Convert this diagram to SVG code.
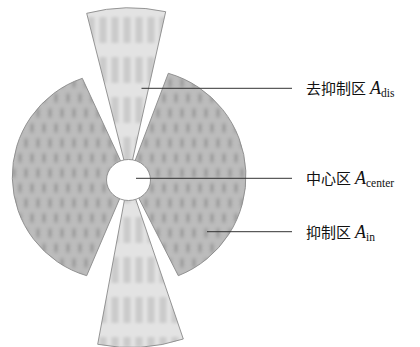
<svg xmlns="http://www.w3.org/2000/svg" width="420" height="347" viewBox="0 0 420 347">
<style>
.outline{fill:none;stroke:#8a8a8a;stroke-width:0.9}
.light{fill:#e3e3e3}
.dark{fill:#bcbcbc}
.leader{stroke:#333;stroke-width:1;fill:none}
.cjk{font-family:"Noto Sans CJK SC","Noto Sans CJK JP",sans-serif;font-size:15px;fill:#111}
.math{font-family:"Liberation Serif",serif;font-style:italic;font-size:18px;fill:#111}
.sub{font-family:"Liberation Serif",serif;font-style:normal;font-size:11.5px}
</style>
<defs>
<filter id="blur" x="-5%" y="-5%" width="110%" height="110%"><feGaussianBlur stdDeviation="1.8"/></filter>
<pattern id="stripes" patternUnits="userSpaceOnUse" x="1" y="12" width="12" height="40">
<rect x="2.5" y="5" width="7" height="26" fill="#cbcbcb"/>
</pattern>
<pattern id="spots" patternUnits="userSpaceOnUse" x="2" y="0" width="12" height="30">
<ellipse cx="6" cy="8" rx="1.8" ry="5" fill="#8c8c8c"/>
<ellipse cx="0" cy="23" rx="1.8" ry="5" fill="#8c8c8c"/>
<ellipse cx="12" cy="23" rx="1.8" ry="5" fill="#8c8c8c"/>
</pattern>
<clipPath id="cTop"><path d="M128.5,178 L86.7,13.3 A170,170 0 0 1 165.7,11.7 Z"/></clipPath>
<clipPath id="cBot"><path d="M128.5,178 L183.3,339 A170,170 0 0 1 97.7,344.3 Z"/></clipPath>
<clipPath id="cLeft"><path d="M128.5,178 L86.7,275.7 A103.6,103.6 0 0 1 82.3,78.3 Z"/></clipPath>
<clipPath id="cRight"><path d="M128.5,178 L168.3,73.3 A107,107 0 0 1 178.3,275.7 Z"/></clipPath>
</defs>
<rect width="420" height="347" fill="#ffffff"/>
<g id="wedge-top">
<path class="light" d="M128.5,178 L86.7,13.3 A170,170 0 0 1 165.7,11.7 Z"/>
<rect x="80" y="0" width="95" height="185" fill="url(#stripes)" filter="url(#blur)" clip-path="url(#cTop)"/>
<path class="outline" d="M128.5,178 L86.7,13.3 A170,170 0 0 1 165.7,11.7 Z"/>
</g>
<g id="wedge-bottom">
<path class="light" d="M128.5,178 L183.3,339 A170,170 0 0 1 97.7,344.3 Z"/>
<rect x="90" y="175" width="100" height="172" fill="url(#stripes)" filter="url(#blur)" clip-path="url(#cBot)"/>
<path class="outline" d="M128.5,178 L183.3,339 A170,170 0 0 1 97.7,344.3 Z"/>
</g>
<g id="sector-left">
<path class="dark" d="M128.5,178 L86.7,275.7 A103.6,103.6 0 0 1 82.3,78.3 Z"/>
<rect x="8" y="70" width="125" height="215" fill="url(#spots)" filter="url(#blur)" clip-path="url(#cLeft)" opacity="0.65"/>
<path class="outline" d="M128.5,178 L86.7,275.7 A103.6,103.6 0 0 1 82.3,78.3 Z"/>
</g>
<g id="sector-right">
<path class="dark" d="M128.5,178 L168.3,73.3 A107,107 0 0 1 178.3,275.7 Z"/>
<rect x="125" y="65" width="128" height="220" fill="url(#spots)" filter="url(#blur)" clip-path="url(#cRight)" opacity="0.65"/>
<path class="outline" d="M128.5,178 L168.3,73.3 A107,107 0 0 1 178.3,275.7 Z"/>
</g>
<g id="center">
<ellipse cx="128.5" cy="180" rx="22" ry="20.5" fill="#ffffff" stroke="#8a8a8a" stroke-width="0.9"/>
</g>
<g id="connectors">
<line class="leader" x1="141.5" y1="88.3" x2="292" y2="88.3"/>
<line class="leader" x1="136" y1="178.3" x2="292" y2="178.3"/>
<line class="leader" x1="207" y1="231.7" x2="292" y2="231.7"/>
</g>
<g id="label-dis">
<text x="306" y="94" class="cjk">去抑制区<tspan class="math" dx="4">A</tspan><tspan class="sub" dy="3">dis</tspan></text>
</g>
<g id="label-center">
<text x="306" y="184" class="cjk">中心区<tspan class="math" dx="4">A</tspan><tspan class="sub" dy="3">center</tspan></text>
</g>
<g id="label-in">
<text x="306" y="238" class="cjk">抑制区<tspan class="math" dx="4">A</tspan><tspan class="sub" dy="3">in</tspan></text>
</g>
</svg>
